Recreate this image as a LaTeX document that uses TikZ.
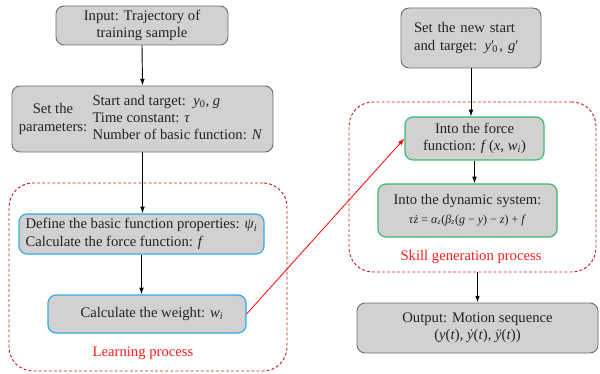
\documentclass[tikz,border=0pt]{standalone}
\usepackage{fontspec}
\setmainfont{Liberation Serif}
\usetikzlibrary{arrows.meta}
\definecolor{boxfill}{RGB}{211,208,209}
\definecolor{boxdraw}{RGB}{110,110,110}
\definecolor{bluedraw}{RGB}{50,170,230}
\definecolor{greendraw}{RGB}{60,185,110}
\definecolor{dashred}{RGB}{200,30,40}
\definecolor{labred}{RGB}{250,30,30}
\definecolor{txt}{RGB}{35,35,35}
\newcommand{\vi}[1]{\textit{#1}}
\newcommand{\sbs}[1]{\textsubscript{#1}}
\begin{document}
\begin{tikzpicture}[x=0.75pt,y=-0.75pt,
  font=\fontsize{11}{13}\selectfont,
  gbox/.style={draw=boxdraw, fill=boxfill, rounded corners=6pt, line width=0.7pt, inner sep=0pt, text=txt, align=center},
  bbox/.style={gbox, draw=bluedraw, line width=0.9pt},
  grbox/.style={gbox, draw=greendraw, line width=0.9pt},
  region/.style={draw=dashred, dash pattern=on 2.2pt off 1.6pt, rounded corners=18pt, line width=0.7pt, inner sep=0pt},
  reglabel/.style={text=labred, inner sep=0pt},
  arr/.style={-{Latex[length=5pt,width=3.5pt]}, line width=0.7pt, black},
  redarr/.style={-{Latex[length=5pt,width=3.5pt]}, line width=0.6pt, red},
]
\useasboundingbox (0,0) rectangle (600,374);

% regions
\node[region, minimum width=208.5pt, minimum height=141pt] (learn) at (148,277) {};
\node[region, minimum width=185.25pt, minimum height=127.5pt] (skill) at (472.5,187) {};
\node[reglabel] (learnlab) at (143,353) {Learning process};
\node[reglabel] (skilllab) at (471,257) {Skill generation process};

% left column
\node[gbox, minimum width=129pt, minimum height=29.25pt] (input) at (142,25.5)
  {Input: Trajectory of\\training sample};
\node[gbox, minimum width=195.75pt, minimum height=49.5pt] (param) at (142.5,119)
  {\begin{tabular}{@{}c@{}}Set the\\parameters:\end{tabular}\hspace{4pt}%
   \begin{tabular}{@{}l@{}}Start and target:\, \vi{y}\sbs{0}, \vi{g}\\Time constant: \vi{τ}\\Number of basic function: \vi{N}\end{tabular}\hspace*{3pt}};
\node[bbox, minimum width=183.75pt, minimum height=30pt, align=left] (define) at (141.5,234)
  {Define the basic function properties: \vi{ψ}\sbs{\vi{i}}\\Calculate the force function: \vi{f}};
\node[bbox, minimum width=148.5pt, minimum height=28.5pt] (weight) at (147,314)
  {\hspace*{7.5pt}Calculate the weight: \vi{w}\sbs{\vi{i}}};

% right column
\node[gbox, minimum width=105pt, minimum height=45pt, text width=85.5pt, align=left] (newstart) at (471,38)
  {Set the new start\\and target: \vi{y}′\kern-1.5pt\sbs{0}\kern1pt, \vi{g}′};
\node[grbox, minimum width=104.25pt, minimum height=32.25pt] (force) at (474.5,138.5)
  {Into the force\\function: \vi{f}\,(\vi{x}, \vi{w}\sbs{\vi{i}})};
\node[grbox, minimum width=134.25pt, minimum height=39.75pt] (dyn) at (467.5,210.5)
  {Into the dynamic system:\\[1pt]{\fontsize{9}{11}\selectfont \vi{τ}\vi{\.{z}} = \vi{α}\sbs{\vi{z}}(\vi{β}\sbs{\vi{z}}(\vi{g} − \vi{y}) − \vi{z}) + \vi{f}}};
\node[gbox, minimum width=180.75pt, minimum height=37.5pt] (output) at (477.5,328)
  {Output: Motion sequence\\(\vi{y}(\vi{t}), \vi{\.{y}}(\vi{t}), \vi{\"{y}}(\vi{t}))};

% connectors
\draw[arr] (input.south) -- (param.north);
\draw[arr] (param.south) -- (param.south |- define.north);
\draw[arr] (define.south) -- (define.south |- weight.north);
\draw[arr] (newstart.south) -- (newstart.south |- force.north);
\draw[arr] (force.south) -- (force.south |- dyn.north);
\draw[arr] (output.north |- skill.south) -- (output.north);
\draw[redarr] (weight.east) -- (force.west);
\end{tikzpicture}
\end{document}
